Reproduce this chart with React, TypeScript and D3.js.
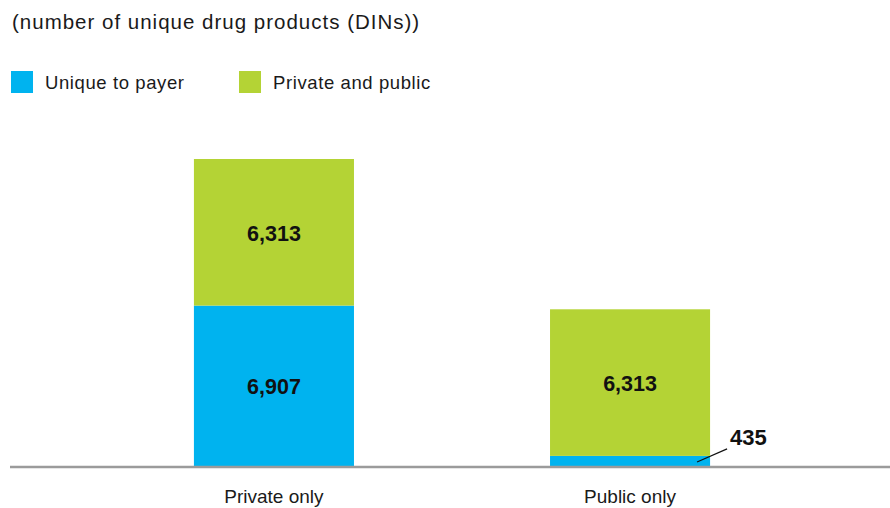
import React from "react";
import * as d3 from "d3";

const categories = ["Private only", "Public only"];
const uniqueToPayer = [6907, 435];
const privateAndPublic = [6313, 6313];
const seriesNames = ["Unique to payer", "Private and public"];
const seriesColors = ["#00B3EF", "#B4D335"];
const subtitle = "(number of unique drug products (DINs))";

const W = 890;
const H = 508;
const FONT = "'Liberation Sans', Arial, Helvetica, sans-serif";

export default function App() {
  const x = d3
    .scaleBand<string>()
    .domain(categories)
    .range([96, 808])
    .paddingInner(196 / 356)
    .paddingOuter(0.275);
  const maxTotal = d3.max(categories, (_, i) => uniqueToPayer[i] + privateAndPublic[i]) as number;
  const y = d3.scaleLinear().domain([0, maxTotal]).range([466, 159]);

  const rows = categories.map((c, i) => ({
    cat: c,
    unique: uniqueToPayer[i],
    both: privateAndPublic[i],
  }));
  const stack = d3.stack<any>().keys(["unique", "both"]);
  const stacked = stack(rows);
  const fmt = d3.format(",");
  const bw = x.bandwidth();

  return (
    <svg width={W} height={H} style={{ position: "absolute", left: 0, top: 0 }} fontFamily={FONT}>
      <text x={12} y={29} fontSize={20.5} letterSpacing={1.0} fill="#1a1a1a">
        {subtitle}
      </text>
      {seriesNames.map((s, i) => (
        <g key={s} transform={`translate(${11 + i * 228},71)`}>
          <rect width={22} height={22} fill={seriesColors[i]} />
          <text x={34} y={18} fontSize={18.5} letterSpacing={0.6} fill="#1a1a1a">
            {s}
          </text>
        </g>
      ))}
      {stacked.map((layer, li) => (
        <g key={layer.key}>
          {layer.map((d, i) => {
            const x0 = x(categories[i]) as number;
            const yTop = y(d[1]);
            const yBot = y(d[0]);
            const h = yBot - yTop;
            const val = d[1] - d[0];
            const big = h > 40;
            return (
              <g key={i}>
                <rect x={x0} y={yTop} width={bw} height={h} fill={seriesColors[li]} />
                {big ? (
                  <text
                    x={x0 + bw / 2}
                    y={(yTop + yBot) / 2 + 8.5}
                    textAnchor="middle"
                    fontSize={21.5}
                    fontWeight="bold"
                    fill="#111"
                  >
                    {fmt(val)}
                  </text>
                ) : (
                  <g>
                    <line
                      x1={x0 + bw - 13}
                      y1={yBot - 4}
                      x2={x0 + bw + 17}
                      y2={yTop - 7}
                      stroke="#111"
                      strokeWidth={1.2}
                    />
                    <text x={x0 + bw + 20} y={yTop - 11} fontSize={22} fontWeight="bold" fill="#111">
                      {fmt(val)}
                    </text>
                  </g>
                )}
              </g>
            );
          })}
        </g>
      ))}
      <line x1={10} x2={890} y1={467} y2={467} stroke="#9b9b9b" strokeWidth={2.5} />
      {categories.map((c) => (
        <text
          key={c}
          x={(x(c) as number) + bw / 2}
          y={503}
          textAnchor="middle"
          fontSize={19}
          fill="#1a1a1a"
        >
          {c}
        </text>
      ))}
    </svg>
  );
}
